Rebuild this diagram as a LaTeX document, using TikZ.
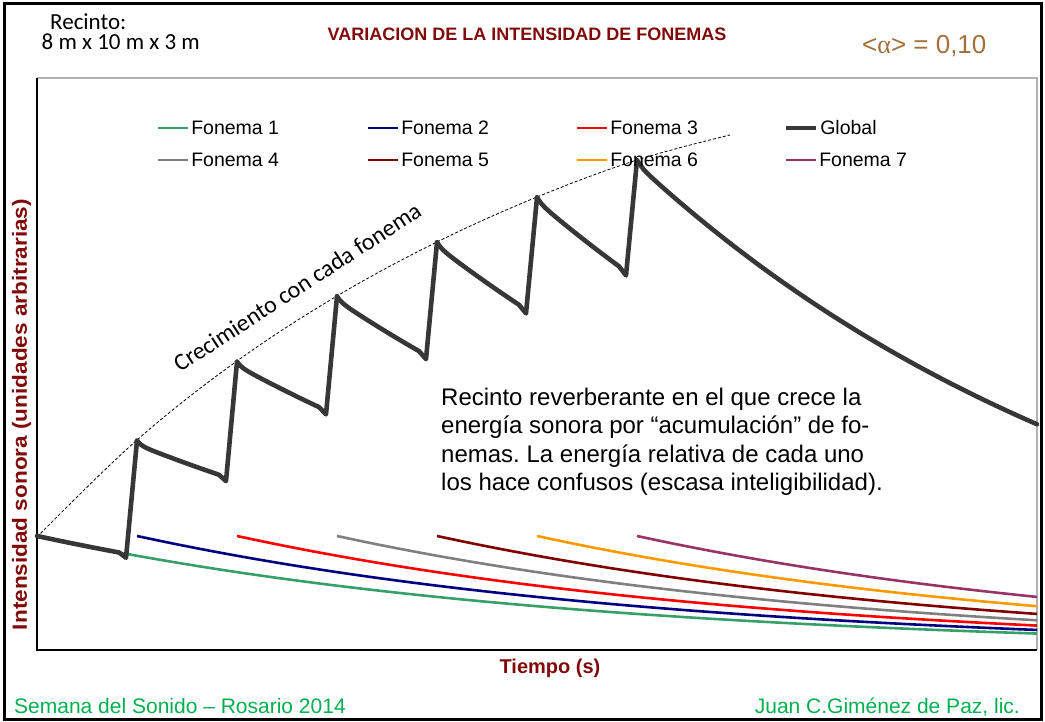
\documentclass[tikz,border=0pt]{standalone}
\usepackage{fontspec}
\setmainfont{Liberation Sans}
\newfontfamily\calibri{Carlito}
\newfontfamily\symserif{Liberation Serif}
\usepackage{xcolor}
\frenchspacing

\definecolor{titlered}{RGB}{128,10,10}
\definecolor{alphabrown}{RGB}{163,112,58}
\definecolor{footgreen}{RGB}{0,176,80}
\definecolor{fone1}{RGB}{55,160,105}
\definecolor{fone2}{RGB}{0,0,128}
\definecolor{fone3}{RGB}{255,0,0}
\definecolor{fone4}{RGB}{128,128,128}
\definecolor{fone5}{RGB}{128,0,0}
\definecolor{fone6}{RGB}{255,153,0}
\definecolor{fone7}{RGB}{153,51,102}
\definecolor{globalgray}{RGB}{55,55,55}

\begin{document}
\begin{tikzpicture}[x=1pt,y=-1pt,
  fonline/.style={line width=2.6pt},
  globline/.style={line width=4.6pt, color=globalgray, line join=round, line cap=round},
  legtext/.style={anchor=west, inner sep=0pt, font=\fontsize{19.5}{22}\selectfont}]
\useasboundingbox (0,0) rectangle (1045,722);

% Outer frame
\draw[line width=3pt] (4,4) rectangle (1041,719);

% Plot area
\draw[gray!60, line width=1.2pt] (37,78) -- (1037,78) -- (1037,650);
\draw[line width=1.2pt] (37,78) -- (37,650) -- (1037,650);

% Decay model (schematic): each fonema decays from the same level
\def\tdec{530}
\def\amp{115}
\def\base{651}

% Single fonemas
\foreach \k/\col in {0/fone1,1/fone2,2/fone3,3/fone4,4/fone5,5/fone6,6/fone7} {
  \pgfmathsetmacro\xs{37+100*\k}
  \draw[fonline,\col] plot[domain=\xs:1037, samples=50]
    (\x,{\base-\amp*exp(-(\x-\xs)/\tdec)});
}

% Growth envelope
\draw[densely dashed, line width=0.8pt] plot[smooth, tension=0.6] coordinates
  {(37,537) (137,440) (237,361) (337,296) (437,242) (537,197) (637,160) (730,135)};

% Global: sum of fonemas, one step per fonema
\foreach \k in {0,...,5} {
  \pgfmathsetmacro\xp{37+100*\k}
  \pgfmathsetmacro\pk{\amp*(1-exp(-(\k+1)*100/\tdec))/(1-exp(-100/\tdec))}
  \pgfmathsetmacro\pn{\amp*(1-exp(-(\k+2)*100/\tdec))/(1-exp(-100/\tdec))}
  \pgfmathsetmacro\hk{\k==0 ? 0 : 4}
  \pgfmathsetmacro\xb{\xp+82}
  \draw[globline] plot[domain=\xp:\xb, samples=30]
      (\x,{\base-\pk*exp(-(\x-\xp)/\tdec)+\hk*(1-exp(-(\x-\xp)/4))})
    -- (\xp+89,{\base-\pk*exp(-89/\tdec)+\hk+4})
    -- (\xp+100,{\base-\pn});
}
% Global: free decay after the last fonema
\pgfmathsetmacro\pl{\amp*(1-exp(-7*100/\tdec))/(1-exp(-100/\tdec))}
\draw[globline] plot[domain=637:1037, samples=60]
  (\x,{\base-\pl*exp(-(\x-637)/\tdec)+4*(1-exp(-(\x-637)/4))});

% Legend
\foreach \i/\lx/\ly/\col in {1/158/128/fone1,2/368/128/fone2,3/577/128/fone3,
                             4/158/160/fone4,5/368/160/fone5,6/577/160/fone6,7/786/160/fone7} {
  \draw[fonline,\col] (\lx,\ly) -- ++(30,0) node[legtext, right=2pt, text=black] (lg\i) {Fonema \i};
}
\draw[globline, line cap=butt] (786,128) -- ++(30,0) node[legtext, right=2pt, text=black] (lgG) {Global};

% Titles and labels
\node[anchor=base west, inner sep=0pt, font=\calibri\fontsize{23}{26}\selectfont] (recinto) at (50,30) {Recinto:};
\node[anchor=base west, inner sep=0pt, font=\calibri\fontsize{23}{26}\selectfont] (medidas) at (41.5,50) {8 m x 10 m x 3 m};
\node[anchor=base, inner sep=0pt, text=titlered, font=\bfseries\fontsize{18}{20}\selectfont] (titulo) at (527,41)
  {VARIACION DE LA INTENSIDAD DE FONEMAS};
\node[anchor=base west, inner sep=0pt, text=alphabrown, font=\fontsize{26}{28}\selectfont] (alfa) at (862,54)
  {<{\symserif α}> = 0,10};
\node[anchor=base, inner sep=0pt, text=titlered, font=\bfseries\fontsize{20}{22}\selectfont] (ejex) at (550,673)
  {Tiempo (s)};
\node[inner sep=0pt, text=titlered, font=\bfseries\fontsize{20.5}{22}\selectfont, rotate=90, xscale=1.1] (ejey) at (21.5,414.5)
  {Intensidad sonora (unidades arbitrarias)};
\node[anchor=base west, inner sep=0pt, rotate=33, font=\calibri\fontsize{24}{26}\selectfont] (crec) at (180,373)
  {Crecimiento con cada fonema};

% Comment text
\node[anchor=base west, inner sep=0pt, font=\fontsize{24}{28}\selectfont] (nota1) at (441,405) {Recinto reverberante en el que crece la};
\node[anchor=base west, inner sep=0pt, font=\fontsize{24}{28}\selectfont] (nota2) at (441,433.5) {energía sonora por “acumulación” de fo-};
\node[anchor=base west, inner sep=0pt, font=\fontsize{24}{28}\selectfont] (nota3) at (441,462) {nemas. La energía relativa de cada uno};
\node[anchor=base west, inner sep=0pt, font=\fontsize{24}{28}\selectfont] (nota4) at (441,490) {los hace confusos (escasa inteligibilidad).};

% Footer
\node[anchor=base west, inner sep=0pt, text=footgreen, font=\fontsize{21}{24}\selectfont] (semana) at (14,713)
  {Semana del Sonido – Rosario 2014};
\node[anchor=base east, inner sep=0pt, text=footgreen, font=\fontsize{21}{24}\selectfont] (autor) at (1020,713)
  {Juan C.Giménez de Paz, lic.};

\end{tikzpicture}
\end{document}
